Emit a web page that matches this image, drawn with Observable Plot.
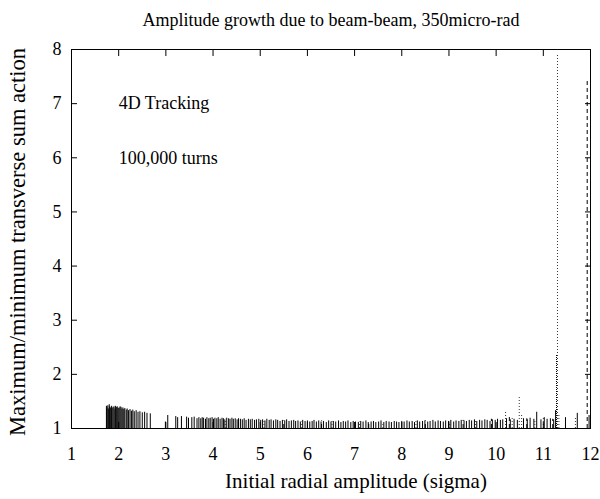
<!DOCTYPE html>
<html><head><meta charset="utf-8">
<script src="https://cdn.jsdelivr.net/npm/d3@7"></script>
<script src="https://cdn.jsdelivr.net/npm/@observablehq/plot@0.6"></script>
<style>body{margin:0;background:#fff} svg{display:block}</style>
</head><body><div id="chart"></div>
<script>
const titleText = "Amplitude growth due to beam-beam, 350micro-rad";
const xLabel = "Initial radial amplitude (sigma)";
const yLabel = "Maximum/minimum transverse sum action";
const notes = ["4D Tracking", "100,000 turns"];
const noteX = [2, 2];
const noteY = [7, 6];
const xTicks = [1,2,3,4,5,6,7,8,9,10,11,12];
const yTicks = [1,2,3,4,5,6,7,8];

// solid impulses: x = initial amplitude (sigma), y = max/min action ratio
const solidAmp = [
  1.74,1.75,1.77,1.78,1.80,1.81,1.83,1.85,1.86,1.88,1.90,1.92,1.93,1.95,1.97,1.99,2.01,2.03,2.05,2.07,
  2.09,2.11,2.13,2.16,2.18,2.21,2.24,2.27,2.30,2.33,2.37,2.41,2.45,2.50,2.55,2.60,2.67,
  2.99,3.04,3.21,3.25,3.33,3.44,3.48,3.55,3.60,3.66,3.70,
  3.74,3.77,3.80,3.84,3.87,3.91,3.94,3.98,4.01,4.04,
  4.08,4.11,4.15,4.19,4.22,4.25,4.29,4.33,4.36,4.40,
  4.43,4.47,4.51,4.54,4.58,4.62,4.66,4.70,4.75,4.79,
  4.83,4.88,4.92,4.97,5.01,5.05,5.10,5.14,5.19,5.23,
  5.28,5.33,5.37,5.42,5.47,5.52,5.56,5.61,5.66,5.71,
  5.75,5.80,5.85,5.90,5.95,6.00,6.05,6.10,6.14,6.19,
  6.24,6.29,6.34,6.40,6.45,6.50,6.55,6.60,6.66,6.71,
  6.76,6.81,6.86,6.92,6.97,7.02,7.08,7.13,7.18,7.24,
  7.29,7.35,7.40,7.45,7.51,7.56,7.62,7.67,7.73,7.78,
  7.84,7.89,7.94,8.00,8.05,8.11,8.16,8.22,8.27,8.33,
  8.38,8.44,8.49,8.55,8.60,8.66,8.71,8.77,8.82,8.88,
  8.93,8.99,9.04,9.10,9.15,9.21,9.26,9.32,9.37,9.43,
  9.48,9.54,9.59,9.65,9.70,9.76,9.81,9.87,9.92,9.98,
  10.03,10.09,10.14,10.22,10.30,10.38,10.45,10.58,10.66,10.72,
  10.80,10.86,10.95,11.02,11.08,11.15,11.22,11.26,11.47,11.72,
  11.97];
const solidGrowth = [
  1.41,1.38,1.42,1.36,1.44,1.40,1.38,1.41,1.37,1.39,1.40,1.36,1.41,1.39,1.40,1.37,1.38,1.40,1.39,1.36,
  1.38,1.35,1.37,1.34,1.36,1.33,1.35,1.32,1.34,1.31,1.33,1.30,1.31,1.29,1.30,1.28,1.27,
  1.12,1.24,1.22,1.20,1.22,1.21,1.19,1.20,1.21,1.18,1.20,
  1.18,1.20,1.19,1.17,1.20,1.18,1.19,1.20,1.17,1.19,
  1.18,1.20,1.17,1.19,1.18,1.16,1.19,1.18,1.17,1.19,
  1.17,1.18,1.16,1.18,1.17,1.16,1.18,1.15,1.17,1.16,
  1.17,1.15,1.16,1.17,1.15,1.16,1.14,1.17,1.15,1.16,
  1.14,1.16,1.15,1.13,1.15,1.14,1.16,1.13,1.14,1.15,
  1.13,1.14,1.12,1.15,1.13,1.14,1.12,1.13,1.15,1.12,
  1.14,1.12,1.13,1.11,1.14,1.12,1.13,1.12,1.14,1.11,
  1.13,1.12,1.14,1.11,1.13,1.12,1.11,1.13,1.12,1.14,
  1.11,1.12,1.13,1.11,1.12,1.14,1.11,1.13,1.12,1.11,
  1.13,1.12,1.11,1.13,1.12,1.14,1.12,1.13,1.11,1.14,
  1.12,1.13,1.14,1.12,1.13,1.15,1.12,1.14,1.13,1.12,
  1.14,1.13,1.15,1.12,1.14,1.13,1.15,1.14,1.13,1.15,
  1.14,1.16,1.13,1.15,1.14,1.16,1.15,1.13,1.16,1.15,
  1.17,1.15,1.16,1.18,1.16,1.17,1.15,1.18,1.16,1.19,
  1.17,1.30,1.16,1.20,1.17,1.18,1.16,1.33,1.20,1.28,
  1.24];

// dotted impulses
const dotAmp = [4.26,5.08,5.88,6.52,7.10,7.60,8.30,9.02,9.56,10.20,10.34,10.49,10.54,10.82,11.00,11.30,11.33,11.68];
const dotGrowth = [1.17,1.15,1.12,1.13,1.12,1.11,1.13,1.12,1.16,1.33,1.20,1.60,1.25,1.15,1.20,7.89,1.25,1.22];

// fine-dotted impulse
const fineAmp = [11.28];
const fineGrowth = [2.35];

// dashed impulses
const dashAmp = [5.50,6.30,7.30,8.50,9.30,9.90,10.28,10.65,11.20,11.93];
const dashGrowth = [1.14,1.14,1.12,1.14,1.15,1.17,1.22,1.18,1.17,7.43];

const zip = (a, b) => a.map((x, i) => ({x, y: b[i]}));
const solid = zip(solidAmp, solidGrowth);
const dotted = zip(dotAmp, dotGrowth);
const fine = zip(fineAmp, fineGrowth);
const dashed = zip(dashAmp, dashGrowth);
const noteData = notes.map((t, i) => ({t, x: noteX[i], y: noteY[i]}));

const chart = Plot.plot({
  width: 600, height: 499,
  marginLeft: 71, marginRight: 10, marginTop: 49, marginBottom: 71,
  style: {fontFamily: "'Liberation Serif', 'Times New Roman', serif", fontSize: "18px", color: "black", background: "white"},
  x: {domain: [1, 12]},
  y: {domain: [1, 8]},
  marks: [
    Plot.ruleX(solid, {x: "x", y1: 1, y2: "y", stroke: "black", strokeWidth: 1}),
    Plot.ruleX(dotted, {x: "x", y1: 1, y2: "y", stroke: "#333", strokeWidth: 1, strokeDasharray: "1,2"}),
    Plot.ruleX(fine, {x: "x", y1: 1, y2: "y", stroke: "black", strokeWidth: 1, strokeDasharray: "1,1"}),
    Plot.ruleX(dashed, {x: "x", y1: 1, y2: "y", stroke: "black", strokeWidth: 1, strokeDasharray: "4,3"}),
    Plot.frame({stroke: "black", strokeWidth: 1}),
    Plot.axisX(xTicks, {anchor: "bottom", tickSize: -6, tickPadding: 25, tickFormat: d => String(d), label: null, fontSize: 18}),
    Plot.axisX(xTicks, {anchor: "top", tickSize: -6, tickFormat: () => "", label: null}),
    Plot.axisY(yTicks, {anchor: "left", tickSize: -6, tickPadding: 16, tickFormat: d => String(d), label: null, fontSize: 18}),
    Plot.axisY(yTicks, {anchor: "right", tickSize: -6, tickFormat: () => "", label: null}),
    Plot.text(noteData, {x: "x", y: "y", text: "t", textAnchor: "start", fontSize: 18}),
    Plot.text([titleText], {text: d => d, frameAnchor: "top", textAnchor: "middle", dy: -36, fontSize: 18}),
    Plot.text([xLabel], {text: d => d, frameAnchor: "bottom", textAnchor: "middle", dx: 25, dy: 59, fontSize: 21}),
    Plot.text([yLabel], {text: d => d, frameAnchor: "left", textAnchor: "middle", dx: -54, dy: 3, rotate: -90, fontSize: 22.5})
  ]
});
document.getElementById("chart").appendChild(chart);
</script>
</body></html>
